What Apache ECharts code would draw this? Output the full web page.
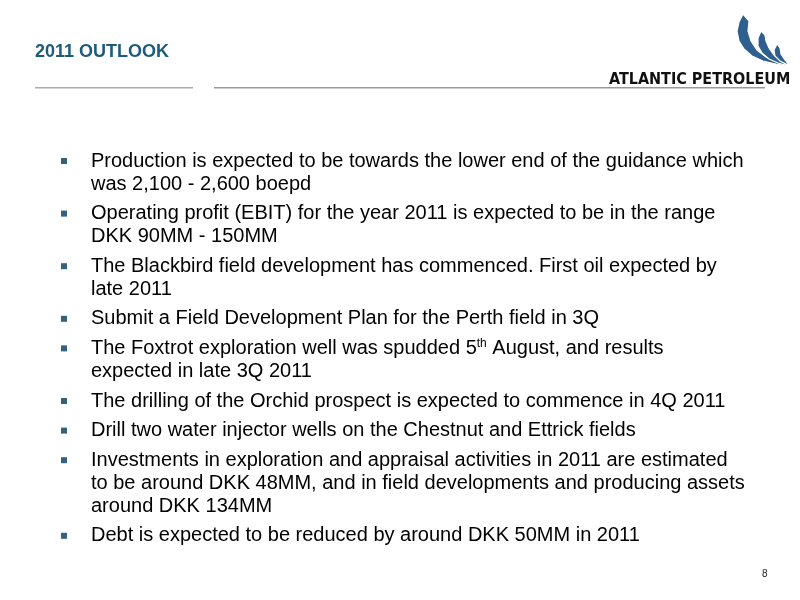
<!DOCTYPE html>
<html>
<head>
<meta charset="utf-8">
<script src="https://cdn.jsdelivr.net/npm/echarts@6/dist/echarts.min.js"></script>
<style>html,body{margin:0;padding:0;background:#fff}#main{width:800px;height:600px}</style>
</head>
<body>
<div id="main"></div>
<script>
var title = '2011 OUTLOOK';
var company = 'ATLANTIC PETROLEUM';
var pageNo = '8';
// each bullet is a list of lines; {sup|..} is superscript
var bullets = [
	['Production is expected to be towards the lower end of the guidance which', 'was 2,100 - 2,600 boepd'],
	['Operating profit (EBIT) for the year 2011 is expected to be in the range', 'DKK 90MM - 150MM'],
	['The Blackbird field development has commenced. First oil expected by', 'late 2011'],
	['Submit a Field Development Plan for the Perth field in 3Q'],
	['The Foxtrot exploration well was spudded 5{sup|th}{n| August, and results}', 'expected in late 3Q 2011'],
	['The drilling of the Orchid prospect is expected to commence in 4Q 2011'],
	['Drill two water injector wells on the Chestnut and Ettrick fields'],
	['Investments in exploration and appraisal activities in 2011 are estimated', 'to be around DKK 48MM, and in field developments and producing assets', 'around DKK 134MM'],
	['Debt is expected to be reduced by around DKK 50MM in 2011']
];

var chart = echarts.init(document.getElementById('main'));
var els = [];
var font = '"Liberation Sans", Arial, sans-serif';
var blue = '#33617f';

function txt(x, y, s, size, weight, fill, family, extra) {
	var st = {x: x, y: y, text: s, fontSize: size, fontWeight: weight, fontFamily: family || font,
		fill: fill, verticalAlign: 'middle', align: 'left'};
	if (extra) for (var k in extra) st[k] = extra[k];
	return {type: 'text', style: st};
}

els.push(txt(35, 52, title, 18, 'bold', '#1d5a7c'));
els.push(txt(609, 80, company, 16, 'bold', '#111', '"DejaVu Sans Condensed", sans-serif'));
// header rule
els.push({type: 'rect', shape: {x: 35, y: 87, width: 158, height: 1.5}, style: {fill: '#aaa'}});
els.push({type: 'rect', shape: {x: 214, y: 87, width: 551, height: 1.5}, style: {fill: '#999'}});
// logo arcs (crescents)
var arcs = [
	[[743,14],[739,22],[737,31],[739,41],[744,49],[752,56],[763,61],[776,64],[788,66],[777,62],[766,57],[757,50],[751,41],[748,31],[749,21]],
	[[761,31],[758,38],[758,46],[762,53],[769,59],[778,63],[789,66],[781,61],[774,55],[769,48],[766,41],[765,35]],
	[[777,44],[774,50],[775,56],[780,61],[790,66],[785,60],[781,54],[780,48]]
];
arcs.forEach(function(p) {
	els.push({type: 'polygon', shape: {points: p}, style: {fill: '#2f5f8f', stroke: '#fff', lineWidth: 1.2}});
});

var y = 161, lineH = 23, gap = 6.6;
bullets.forEach(function(b) {
	els.push({type: 'rect', shape: {x: 61, y: y - 3, width: 6, height: 6}, style: {fill: blue}});
	b.forEach(function(line) {
		var extra = null, s = line;
		if (line.indexOf('{sup|') >= 0) {
			var i = line.indexOf('{sup|');
			s = '{n|' + line.slice(0, i) + '}' + line.slice(i);
			extra = {rich: {
				n: {fontSize: 20, fontFamily: font, fill: '#000'},
				sup: {fontSize: 12, fontFamily: font, fill: '#000', verticalAlign: 'top', padding: [0, 0, 10, 0]}
			}};
		}
		els.push(txt(91, y, s, 20, 'normal', '#000', null, extra));
		y += lineH;
	});
	y += gap;
});

els.push(txt(762, 574, pageNo, 10, 'normal', '#222'));

chart.setOption({graphic: {elements: els}});
</script>
</body>
</html>
